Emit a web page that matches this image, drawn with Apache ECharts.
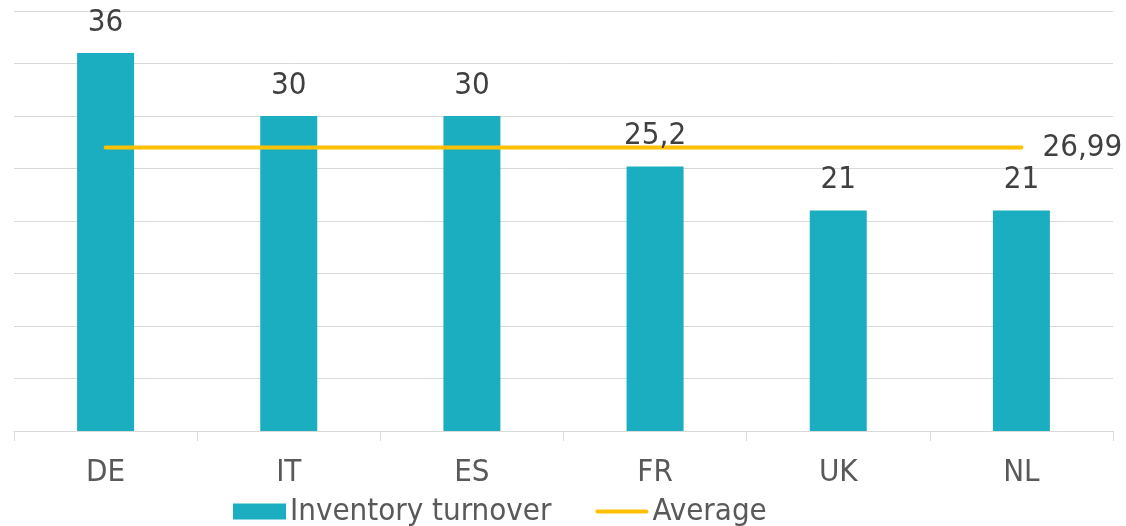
<!DOCTYPE html>
<html>
<head>
<meta charset="utf-8">
<script src="https://cdn.jsdelivr.net/npm/echarts@6/dist/echarts.min.js"></script>
<style>
html,body{margin:0;padding:0;background:#fff;}
#c{width:1126px;height:526px;}
</style>
</head>
<body>
<div id="c"></div>
<script>
const categories = ['DE', 'IT', 'ES', 'FR', 'UK', 'NL'];
const turnover = [36, 30, 30, 25.2, 21, 21];
const average = [26.99, 26.99, 26.99, 26.99, 26.99, 26.99];
const seriesNames = ['Inventory turnover', 'Average'];

const FONT = "'DejaVu Sans Condensed', 'DejaVu Sans', sans-serif";
const fmt = v => String(v).replace('.', ',');

const chart = echarts.init(document.getElementById('c'));
chart.setOption({
  animation: false,
  textStyle: { fontFamily: FONT },
  grid: { left: 14, right: 13, top: 11, bottom: 95, containLabel: false },
  legend: {
    left: 228, top: 491,
    itemWidth: 53, itemHeight: 16, itemGap: 44,
    textStyle: { fontSize: 31, color: '#595959', fontFamily: FONT, padding: [0, 0, 0, -1] },
    data: [
      { name: seriesNames[0], icon: 'rect' },
      { name: seriesNames[1], icon: 'path://M2,0L98,0A2,2 0 0 1 98,8L2,8A2,2 0 0 1 2,0Z' }
    ]
  },
  xAxis: {
    type: 'category',
    data: categories,
    boundaryGap: true,
    axisLine: { lineStyle: { color: '#d9d9d9', width: 1 } },
    axisTick: { show: true, length: 10, alignWithLabel: false, lineStyle: { color: '#d9d9d9' } },
    axisLabel: { fontSize: 31, color: '#595959', margin: 26, fontFamily: FONT }
  },
  yAxis: {
    type: 'value',
    min: 0, max: 40, interval: 5,
    axisLabel: { show: false },
    axisLine: { show: false },
    axisTick: { show: false },
    splitLine: { lineStyle: { color: '#d9d9d9', width: 1 } }
  },
  series: [
    {
      name: seriesNames[0],
      type: 'bar',
      data: turnover,
      barWidth: 57,
      itemStyle: { color: '#1BAEC1' },
      z: 2
    },
    {
      name: seriesNames[1],
      type: 'line',
      data: average,
      symbol: 'none',
      lineStyle: { color: '#FFC000', width: 4, cap: 'round' },
      itemStyle: { color: '#FFC000' },
      endLabel: {
        show: true, distance: 21,
        fontSize: 31, color: '#404040', fontFamily: FONT,
        formatter: p => fmt(p.value)
      },
      z: 3
    },
    {
      name: 'labels',
      type: 'bar',
      data: turnover,
      barWidth: 57,
      barGap: '-100%',
      silent: true,
      itemStyle: { color: 'rgba(0,0,0,0)' },
      label: {
        show: true, position: 'top', distance: 15,
        fontSize: 31, color: '#404040', fontFamily: FONT,
        formatter: p => fmt(p.value)
      },
      z: 10
    }
  ]
});
</script>
</body>
</html>
